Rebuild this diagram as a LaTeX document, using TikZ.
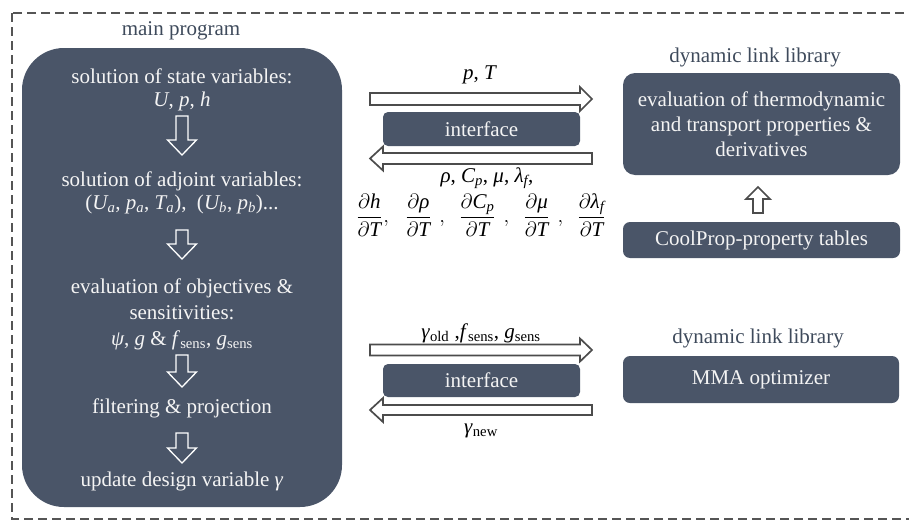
\documentclass[tikz,border=0pt]{standalone}
\usepackage{fontspec}
\setmainfont{Liberation Serif}
\begin{document}
\begin{tikzpicture}[x=1pt,y=-1pt,
  font=\fontsize{21}{24}\selectfont,
  box/.style={fill=slate,text=boxtext,inner sep=0pt,align=center},
  lbl/.style={text=labelc,inner sep=0pt,align=center},
  hollowline/.style={draw=arrowc,line width=1.7pt,fill=white,line join=miter},
  whiteline/.style={draw=white,line width=1.3pt,line join=miter}]
\definecolor{slate}{HTML}{4A5568}
\definecolor{labelc}{HTML}{3E4A5B}
\definecolor{boxtext}{HTML}{F4F4F4}
\definecolor{borderc}{HTML}{555555}
\definecolor{arrowc}{HTML}{4C4C4C}
\useasboundingbox (0,0) rectangle (909,522);

% right-pointing block arrow: x-start, x-tip, y, shaft half, head half, head length
\newcommand\arrR[7]{\draw[#7] (#1,#3-#4) -- (#2-#6,#3-#4) -- (#2-#6,#3-#5) -- (#2,#3)
  -- (#2-#6,#3+#5) -- (#2-#6,#3+#4) -- (#1,#3+#4) -- cycle;}
% left-pointing block arrow: x-start, x-tip, y, shaft half, head half, head length
\newcommand\arrL[7]{\draw[#7] (#1,#3-#4) -- (#2+#6,#3-#4) -- (#2+#6,#3-#5) -- (#2,#3)
  -- (#2+#6,#3+#5) -- (#2+#6,#3+#4) -- (#1,#3+#4) -- cycle;}
% vertical block arrow: x, y-start, y-tip, shaft half, head half, head length (signed)
\newcommand\arrV[7]{\draw[#7] (#1-#4,#2) -- (#1-#4,#3-#6) -- (#1-#5,#3-#6) -- (#1,#3)
  -- (#1+#5,#3-#6) -- (#1+#4,#3-#6) -- (#1+#4,#2) -- cycle;}

% dashed frame
\draw[borderc,line width=1.6pt,dash pattern=on 9pt off 5pt] (12,13) rectangle (925,519);

% main program
\node[lbl] (mainlbl) at (181,31) {main program};
\fill[slate,rounded corners=42pt] (22,48) rectangle (342,507);
\node[box,fill=none] (state) at (182,90) {solution of state variables:\\[-1pt]\textit{U}, \textit{p}, \textit{h}};
\node[box,fill=none] (adj) at (182,193) {solution of adjoint variables:\\[-1pt](\textit{U\textsubscript{a}}, \textit{p\textsubscript{a}}, \textit{T\textsubscript{a}}),\ \ (\textit{U\textsubscript{b}}, \textit{p\textsubscript{b}})...};
\node[box,fill=none] (obj) at (182,314) {evaluation of objectives \&\\[2pt]sensitivities:\\[2pt]\textit{ψ}, \textit{g} \& \textit{f}\textsubscript{sens}, \textit{g}\textsubscript{sens}};
\node[box,fill=none] (filt) at (182,408) {filtering \& projection};
\node[box,fill=none] (upd) at (182,481) {update design variable \textit{γ}};
\arrV{182}{116}{155}{6}{14.5}{15}{whiteline}
\arrV{182}{230}{259}{6}{14.5}{15}{whiteline}
\arrV{182}{355}{387}{6}{14.5}{15}{whiteline}
\arrV{182}{433}{463}{6}{14.5}{15}{whiteline}

% upper interface
\node[lbl,text=black] (pT) at (480,75) {\textit{p}, \textit{T}};
\arrR{370}{592}{99}{6}{12}{12}{hollowline}
\node[box,minimum width=197pt,minimum height=34pt,rounded corners=5pt] (if1) at (481.5,129) {interface};
\arrL{592}{370}{158.5}{5.5}{12}{13}{hollowline}
\node[lbl,text=black] (props) at (487,178) {\textit{ρ}, \textit{C\textsubscript{p}}, \textit{μ}, \textit{λ\textsubscript{f}},};
\node[lbl,text=black] (derivs) at (481,215) {$\displaystyle
  \frac{\partial\textit{h}}{\partial\textit{T}}\hspace{1pt},\hspace{13pt}
  \frac{\partial\textit{ρ}}{\partial\textit{T}}\hspace{8pt},\hspace{11pt}
  \frac{\partial\textit{C\textsubscript{p}}}{\partial\textit{T}}\hspace{8pt},\hspace{11pt}
  \frac{\partial\textit{μ}}{\partial\textit{T}}\hspace{8pt},\hspace{11pt}
  \frac{\partial\textit{λ\textsubscript{f}}}{\partial\textit{T}}$};

% property library
\node[lbl] (dll1) at (755,57) {dynamic link library};
\node[box,minimum width=277pt,minimum height=102pt,rounded corners=12pt] (evalp) at (761.5,124)
  {evaluation of thermodynamic\\[1pt]and transport properties \&\\[1pt]derivatives};
\node[box,minimum width=277pt,minimum height=36pt,rounded corners=7pt] (cool) at (761.5,240) {CoolProp-property tables};
\arrV{758}{213}{187}{5}{12}{-12}{hollowline}

% lower interface
\node[lbl,text=black] (gold) at (481,333) {\textit{γ}\textsubscript{old} ,\textit{f}\textsubscript{sens}, \textit{g}\textsubscript{sens}};
\arrR{370}{592}{350}{5.5}{11.5}{12}{hollowline}
\node[box,minimum width=197pt,minimum height=33pt,rounded corners=5pt] (if2) at (481.5,380.5) {interface};
\arrL{592}{370}{410}{5}{12}{13}{hollowline}
\node[lbl,text=black] (gnew) at (481,431) {\textit{γ}\textsubscript{new}};

% optimizer library
\node[lbl] (dll2) at (758,338) {dynamic link library};
\node[box,minimum width=276pt,minimum height=47pt,rounded corners=7pt] (mma) at (761,379.5) {MMA optimizer};
\end{tikzpicture}
\end{document}
